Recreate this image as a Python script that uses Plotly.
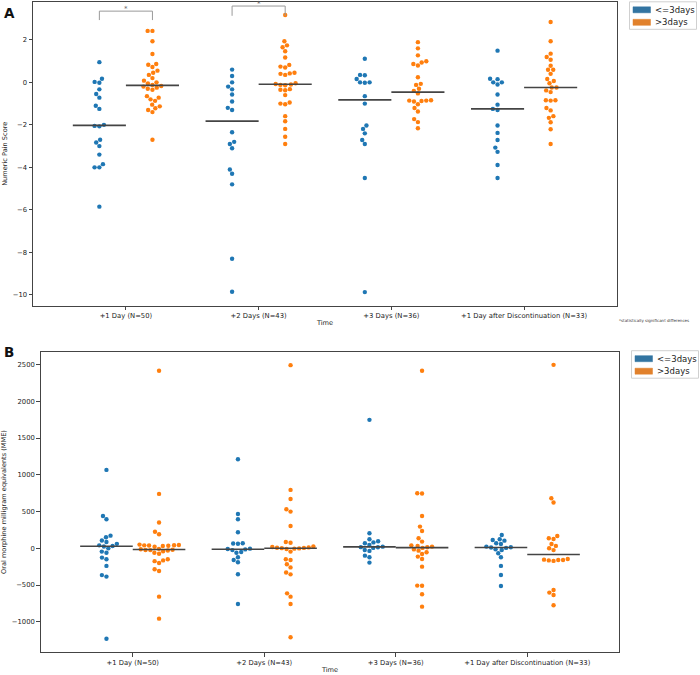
import numpy as np
import plotly.graph_objects as go

# ---------------- data ----------------
categories = ["+1 Day (N=50)", "+2 Days (N=43)", "+3 Days (N=36)",
              "+1 Day after Discontinuation (N=33)"]
groups = ["<=3days", ">3days"]

pain_le3 = [
    [0.95, 0.17, 0.02, -0.02, -0.33, -0.55, -0.72, -1.1, -1.25, -2.0, -2.05, -2.07,
     -2.7, -2.83, -3.0, -3.4, -3.85, -4.0, -4.0, -5.85],
    [0.6, 0.3, 0.0, -0.2, -0.33, -0.57, -0.9, -1.2, -1.3, -2.35, -2.8, -2.9, -3.1,
     -4.1, -4.3, -4.8, -8.3, -9.85],
    [1.11, 0.35, 0.33, 0.16, 0.0, 0.0, -0.02, -0.65, -1.0, -2.03, -2.19, -2.4, -2.71,
     -2.9, -4.5, -9.87],
    [1.49, 0.17, 0.15, 0.0, 0.0, -0.1, -0.57, -1.05, -1.25, -1.3, -2.03, -2.38, -2.71,
     -3.07, -3.27, -3.89, -4.5],
]
pain_gt3 = [
    [2.42, 2.42, 1.93, 1.33, 0.86, 0.83, 0.72, 0.55, 0.45, 0.35, 0.2, 0.08, 0.0, -0.05,
     -0.12, -0.17, -0.2, -0.25, -0.3, -0.35, -0.65, -0.72, -0.8, -0.87, -1.05, -1.13,
     -1.22, -1.3, -1.4, -2.7],
    [3.17, 1.93, 1.74, 1.65, 1.46, 1.17, 0.82, 0.74, 0.70, 0.45, 0.42, 0.40, 0.35, -0.04,
     -0.08, -0.1, -0.12, -0.14, -0.32, -0.35, -0.37, -0.6, -0.95, -1.0, -1.03, -1.59,
     -1.83, -2.19, -2.56, -2.9],
    [1.89, 1.6, 1.27, 0.99, 0.93, 0.86, 0.79, 0.24, -0.07, -0.12, -0.3, -0.4, -0.52,
     -0.84, -0.86, -0.86, -0.88, -0.9, -1.03, -1.21, -1.37, -1.73, -1.87, -2.16],
    [2.84, 1.93, 1.35, 1.19, 1.06, 0.78, 0.59, 0.59, 0.4, 0.16, 0.06, -0.04, -0.24,
     -0.24, -0.38, -0.46, -0.84, -0.84, -0.86, -1.21, -1.32, -1.59, -1.67, -1.88,
     -2.21, -2.9],
]
mme_le3 = [
    [1066, 440, 395, 172, 150, 105, 85, 60, 40, 30, 25, 0, -45, -60, -127, -150, -240,
     -365, -385, -1230],
    [1211, 467, 395, 218, 68, 65, 62, -5, -10, -15, -25, -50, -60, -122, -160, -190,
     -354, -758],
    [1747, 204, 122, 95, 80, 68, 45, 22, 15, 14, 5, -23, -36, -100, -122, -195],
    [181, 122, 113, 104, 68, 59, 23, 14, 10, 5, -14, -23, -68, -122, -240, -363, -513],
]
mme_gt3 = [
    [2414, 740, 350, 225, 190, 50, 45, 42, 40, 38, 35, 30, 20, -8, -14, -20, -24, -25,
     -30, -40, -60, -75, -150, -165, -175, -200, -285, -310, -658, -957],
    [2491, 794, 671, 531, 499, 304, 85, 75, 25, 18, 12, 8, 5, 2, -2, -5, -9, -45, -150,
     -160, -218, -260, -330, -355, -613, -658, -758, -1211],
    [2414, 749, 745, 440, 295, 236, 136, 91, 40, 32, 23, 14, 5, -15, -32, -54, -77,
     -113, -145, -250, -508, -510, -626, -794],
    [2495, 680, 622, 168, 136, 127, 59, 32, 0, -25, -145, -155, -159, -159, -165, -172,
     -567, -603, -635, -776],
]
pain_ticks = [-10, -8, -6, -4, -2, 0, 2]
mme_ticks = [-1000, -500, 0, 500, 1000, 1500, 2000, 2500]
significant = [0, 1]   # categories with significant differences (panel A)

# ---------------- style ----------------
W, H = 700, 675
FONT = "DejaVu Sans"
C_BLUE, C_ORANGE = "#1f77b4", "#ff7f0e"
P_BLUE, P_ORANGE = "#3274a1", "#e1812c"
AX = "#444444"
XR = [-0.7, 3.7]
DODGE = 0.2
MARK = 4.4

# panel geometry in pixels (left, right, top, bottom)
geomA = (33, 617, 2, 305.5)
geomB = (40.7, 619.3, 351.7, 652.3)
yrA = [-10.5, 3.78]
yrB = [-1415, 2674]


def dom(g):
    l, r, t, b = g
    return [l / W, r / W], [1 - b / H, 1 - t / H]


def swarm(vals, ppx, ppy, d):
    vals = np.asarray(vals, float)
    order = np.argsort(vals)
    placed = []
    off = np.zeros(len(vals))
    for i in order:
        y = vals[i] * ppy
        cands = [0.0]
        for px, py in placed:
            dy = abs(py - y)
            if dy < d:
                dx = np.sqrt(d * d - dy * dy)
                cands += [px + dx, px - dx]
        cands.sort(key=lambda c: (abs(c), c))
        for c in cands:
            if all((c - px) ** 2 + (y - py) ** 2 >= d * d - 1e-6 for px, py in placed):
                break
        placed.append((c, y))
        off[i] = c / ppx
    return off


fig = go.Figure()


def panel(le3, gt3, xa, ya, geom, yr):
    l, r, t, b = geom
    ppx = (r - l) / (XR[1] - XR[0])
    ppy = (b - t) / (yr[1] - yr[0])
    for gi, (data, col) in enumerate([(le3, C_BLUE), (gt3, C_ORANGE)]):
        sign = -1 if gi == 0 else 1
        for ci, vals in enumerate(data):
            center = ci + sign * DODGE
            offs = swarm(vals, ppx, ppy, MARK + 0.4)
            fig.add_trace(go.Scatter(
                x=center + offs, y=vals, mode="markers", xaxis=xa, yaxis=ya,
                marker=dict(color=col, size=MARK, line=dict(width=0)),
                name=groups[gi], showlegend=False, hoverinfo="y"))
            med = float(np.median(vals))
            x0, x1 = (ci - 0.4, ci) if gi == 0 else (ci, ci + 0.4)
            fig.add_trace(go.Scatter(
                x=[x0, x1], y=[med, med], mode="lines", xaxis=xa, yaxis=ya,
                line=dict(color="#444444", width=1.6), showlegend=False,
                hoverinfo="skip"))


panel(pain_le3, pain_gt3, "x", "y", geomA, yrA)
panel(mme_le3, mme_gt3, "x2", "y2", geomB, yrB)

axis_common = dict(showline=True, mirror=True, linecolor=AX, linewidth=1,
                   ticks="outside", ticklen=3.5, tickcolor=AX, tickwidth=1,
                   showgrid=False, zeroline=False,
                   tickfont=dict(family=FONT, size=6.8, color="#222"),
                   automargin=False)
dxA, dyA = dom(geomA)
dxB, dyB = dom(geomB)

fig.update_layout(
    width=W, height=H, margin=dict(l=0, r=0, t=0, b=0),
    paper_bgcolor="white", plot_bgcolor="white",
    font=dict(family=FONT, color="#222"),
    showlegend=False,
    xaxis=dict(domain=dxA, range=XR, anchor="y", tickvals=[0, 1, 2, 3],
               ticktext=categories,
               title=dict(text="Time", font=dict(family=FONT, size=6.6), standoff=1),
               **axis_common),
    yaxis=dict(domain=dyA, range=yrA, anchor="x", tickvals=pain_ticks,
               title=dict(text="Numeric Pain Score", font=dict(family=FONT, size=6.6),
                          standoff=4),
               **axis_common),
    xaxis2=dict(domain=dxB, range=XR, anchor="y2", tickvals=[0, 1, 2, 3],
                ticktext=categories,
                title=dict(text="Time", font=dict(family=FONT, size=6.6), standoff=1),
                **axis_common),
    yaxis2=dict(domain=dyB, range=yrB, anchor="x2", tickvals=mme_ticks,
                title=dict(text="Oral morphine milligram equivalents (MME)",
                           font=dict(family=FONT, size=6.6), standoff=4),
                **axis_common),
)

# significance brackets (panel A)
for ci in significant:
    base = 2.93 if ci == 0 else 3.13
    hi = 3.35 if ci == 0 else 3.59
    fig.add_shape(type="path", xref="x", yref="y",
                  path=f"M {ci - DODGE},{base} L {ci - DODGE},{hi} L {ci + DODGE},{hi} L {ci + DODGE},{base}",
                  line=dict(color="#999999", width=1))
    fig.add_annotation(x=ci, y=hi, xref="x", yref="y", text="*", showarrow=False,
                       xanchor="center", yanchor="bottom", yshift=-4,
                       font=dict(family=FONT, size=7, color="#666"))

# panel letters
fig.add_annotation(x=2 / W, y=1 - 3 / H, xref="paper", yref="paper", text="<b>A</b>",
                   showarrow=False, xanchor="left", yanchor="top",
                   font=dict(family=FONT, size=13.5, color="#111"))
fig.add_annotation(x=2 / W, y=1 - 342 / H, xref="paper", yref="paper", text="<b>B</b>",
                   showarrow=False, xanchor="left", yanchor="top",
                   font=dict(family=FONT, size=13.5, color="#111"))

# footnote
fig.add_annotation(x=654 / W, y=1 - 321 / H, xref="paper", yref="paper",
                   text="*statistically significant differences", showarrow=False,
                   xanchor="center", yanchor="middle",
                   font=dict(family=FONT, size=4, color="#333"))


# legends (patch style)
def legend_box(x0, y0):
    fig.add_shape(type="rect", xref="paper", yref="paper",
                  x0=x0 / W, x1=(x0 + 67) / W, y0=1 - (y0 + 27.5) / H, y1=1 - y0 / H,
                  line=dict(color="#d0d0d0", width=1), fillcolor="white")
    for k, (lab, col) in enumerate(zip(groups, [P_BLUE, P_ORANGE])):
        yc = y0 + 8 + k * 12.5
        fig.add_shape(type="rect", xref="paper", yref="paper",
                      x0=(x0 + 3.5) / W, x1=(x0 + 21) / W,
                      y0=1 - (yc + 3) / H, y1=1 - (yc - 3) / H,
                      line=dict(color=col, width=0.5), fillcolor=col)
        fig.add_annotation(x=(x0 + 23) / W, y=1 - yc / H, xref="paper", yref="paper",
                           text=lab, showarrow=False, xanchor="left", yanchor="middle",
                           font=dict(family=FONT, size=8.5, color="#222"))


legend_box(629.5, 1.8)
legend_box(631.5, 350.7)

fig.write_html("out.html",
               config={"displayModeBar": False},
               post_script="document.body.style.margin='0px';"
                           "document.body.style.padding='0px';")
